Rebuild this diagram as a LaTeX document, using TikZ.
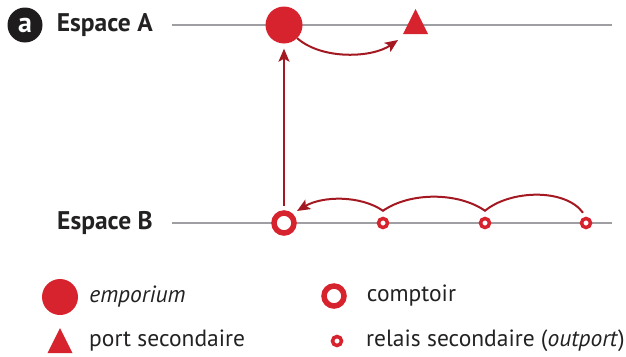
\documentclass[tikz,border=0pt]{standalone}
\usepackage{fontspec}
\setmainfont{PT Sans}
\usepackage{xcolor}
\usepackage{tikz}
\usetikzlibrary{positioning, arrows.meta}

\definecolor{rouge}{RGB}{215,35,45}
\definecolor{rougefonce}{RGB}{163,24,33}
\definecolor{grisligne}{RGB}{158,158,163}
\definecolor{noirbadge}{RGB}{30,28,28}
\definecolor{texte}{RGB}{35,33,33}

\begin{document}
\begin{tikzpicture}[x=1pt, y=-1pt, >={Stealth[length=13pt, width=11pt, inset=3pt]},
    espace/.style={text=texte, font=\bfseries\fontsize{25.5}{25.5}\selectfont, inner sep=0pt},
    legende/.style={text=texte, font=\fontsize{23.5}{23.5}\selectfont, inner sep=0pt},
    emporium/.style={circle, fill=rouge, minimum size=37pt, inner sep=0pt},
    comptoir/.style={circle, draw=rouge, fill=white, line width=5.5pt, minimum size=20pt, inner sep=0pt},
    relais/.style={circle, draw=rouge, fill=white, line width=3.5pt, minimum size=9pt, inner sep=0pt},
    axe/.style={draw=grisligne, line width=2.6pt},
    fleche/.style={draw=rougefonce, line width=2pt, ->}]
    \useasboundingbox (0,0) rectangle (626,356);

    % 1. Les deux espaces (lignes grises)
    \coordinate (lA0) at (172,25);
    \coordinate (lA1) at (612,25);
    \coordinate (lB0) at (172,223);
    \coordinate (lB1) at (612,223);
    \draw[axe] (lA0) -- (lA1);
    \draw[axe] (lB0) -- (lB1);

    \node (badge) [circle, fill=noirbadge, minimum size=35pt, inner sep=0pt, text=white,
        font=\bfseries\fontsize{28}{28}\selectfont] at (25,25) {a};
    \node (espA) [espace, left=19pt of lA0] {Espace A};
    \node (espB) [espace, left=19pt of lB0] {Espace B};

    % 2. Espace A : emporium et port secondaire
    \node (emp) [emporium] at (284,25) {};
    \fill[rouge] (403,34) -- (415.5,9) -- (428,34) -- cycle;
    \coordinate (port) at (398,40);

    % 3. Espace B : comptoir et relais
    \node (comp) [comptoir] at (284,223) {};
    \node (rel1) [relais] at (383,223) {};
    \node (rel2) [relais] at (485,223) {};
    \node (rel3) [relais] at (586,223) {};

    % 4. Flèches
    \draw[fleche] (emp.south east) .. controls (322,60) and (372,58) .. (port);
    \draw[fleche, shorten <=4pt, shorten >=5pt] (comp.north) -- (emp.south);
    \draw[fleche] ([xshift=-3pt,yshift=4pt]rel3.north)
        .. controls (565,188) and (510,190) .. ([yshift=6pt]rel2.north)
        .. controls (458,192) and (410,192) .. ([yshift=6pt]rel1.north)
        .. controls (360,195) and (322,196) .. ([xshift=4pt,yshift=3pt]comp.north east);

    % 5. Légende
    \node (legEmp) [emporium, minimum size=36pt] at (60,297) {};
    \node (legEmpT) [legende, right=11pt of legEmp] {\itshape emporium};
    \node (legComp) [comptoir] at (334,296) {};
    \node (legCompT) [legende, right=20pt of legComp] {comptoir};
    \fill[rouge] (47.5,353) -- (60,328) -- (72.5,353) -- cycle;
    \coordinate (legPort) at (60,341);
    \node (legPortT) [legende, anchor=west] at (89,341) {port secondaire};
    \node (legRel) [relais] at (337,341) {};
    \node (legRelT) [legende, anchor=west] at (366,341) {relais secondaire (\textit{outport})};
\end{tikzpicture}
\end{document}
